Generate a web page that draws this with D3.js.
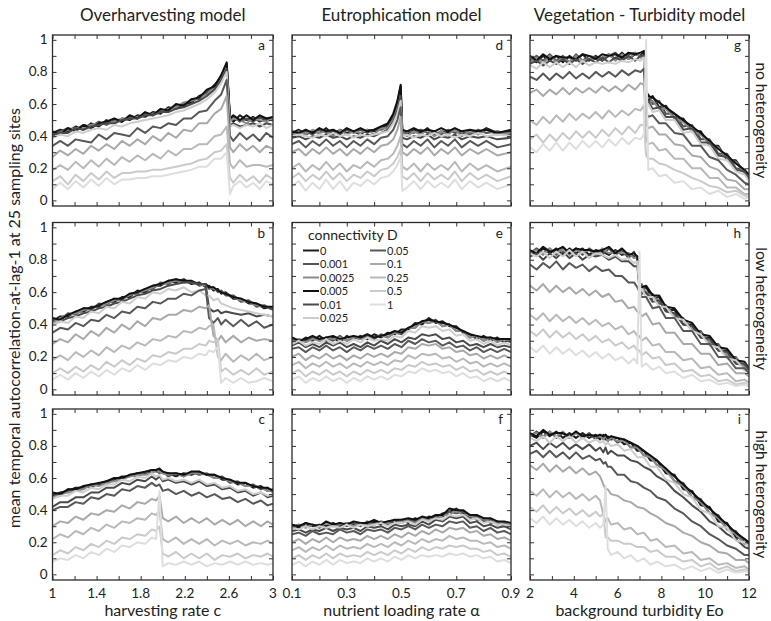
<!DOCTYPE html>
<html>
<head>
<meta charset="utf-8">
<script src="https://cdn.jsdelivr.net/npm/d3@7"></script>
<style>
  body { margin: 0; background: #fff; }
  svg text { font-family: Lato, "Open Sans", "Noto Sans", sans-serif; fill: #222; }
</style>
</head>
<body>
<svg id="chart" width="771" height="621"></svg>
<script>
// Connectivity levels (legend order = drawing order) and their grey shades
const connectivity = ["0", "0.001", "0.0025", "0.005", "0.01", "0.025", "0.05", "0.1", "0.25", "0.5", "1"];
const lineColors = ["#1c1c1c", "#525252", "#8a8a8a", "#111111", "#4a4a4a", "#cdcdcd", "#585858", "#a9a9a9", "#b9b9b9", "#cacaca", "#dedede"];

const modelTitles = ["Overharvesting model", "Eutrophication model", "Vegetation - Turbidity model"];
const rowTitles = ["no heterogeneity", "low heterogeneity", "high heterogeneity"];
const xTitles = ["harvesting rate c", "nutrient loading rate \u03b1", "background turbidity Eo"];
const xDomains = [[1, 3], [0.1, 0.9], [2, 12]];
const xTickLabels = [[1, 1.4, 1.8, 2.2, 2.6, 3], [0.1, 0.3, 0.5, 0.7, 0.9], [2, 4, 6, 8, 10, 12]];
const xMinorSteps = [0.2, 0.1, 1];
// autocorrelation is stored as percent (x100)
const yTickValues = [0, 20, 40, 60, 80, 100];
const yTickLabels = ["0", "0.2", "0.4", "0.6", "0.8", "1"];

// ---- a: overharvesting, no heterogeneity
const xa = [1.00,1.07,1.14,1.21,1.28,1.35,1.42,1.49,1.56,1.63,1.70,1.77,1.84,1.91,1.98,2.05,2.12,2.19,2.26,2.33,2.40,2.47,2.53,2.58,2.61,2.64,2.70,2.76,2.82,2.88,2.94,3.00];
const ya = [
 [42,44,43,46,44,48,46,50,48,51,50,53,52,55,54,58,57,60,61,65,67,72,77,85,52,49,53,50,52,49,51,50],
 [40,43,45,44,47,46,49,47,50,49,52,51,54,53,56,56,59,59,63,63,68,70,78,84,50,52,49,51,49,52,50,52],
 [41,42,44,45,45,47,48,48,49,51,51,52,53,54,55,57,58,61,62,64,66,71,76,83,49,51,50,48,51,50,49,51],
 [43,41,45,43,47,45,48,49,51,49,53,51,55,53,57,56,60,59,63,64,69,71,78,86,51,53,50,53,50,53,51,52],
 [41,42,42,45,44,46,47,48,48,50,51,51,53,53,55,55,57,58,60,62,65,69,75,82,47,48,46,47,48,46,48,47],
 [39,41,40,43,42,44,45,44,47,46,48,49,50,51,52,53,55,56,58,60,63,67,73,80,46,47,45,47,46,48,45,47],
 [34,37,34,38,37,36,41,38,42,41,40,45,42,46,45,48,47,51,51,55,56,62,66,75,40,37,42,38,41,37,42,39],
 [27,31,28,32,29,34,31,35,32,37,34,38,35,40,37,42,39,44,43,48,48,54,57,65,33,30,35,31,34,30,34,32],
 [19,22,19,24,20,25,21,26,22,27,24,28,25,29,26,31,28,32,32,35,35,40,41,46,23,20,25,21,22,22,21,22],
 [12,15,10,16,12,17,13,18,14,17,17,18,18,19,19,20,21,22,23,25,26,30,31,35,14,11,16,12,15,11,16,13],
 [7,11,7,12,8,13,9,14,10,13,13,14,14,15,15,16,17,18,19,21,21,26,26,30,4,9,12,8,11,7,12,10]
];

// ---- b: overharvesting, low heterogeneity
const xb = [1.00,1.07,1.14,1.21,1.28,1.35,1.42,1.49,1.56,1.63,1.70,1.77,1.84,1.91,1.98,2.05,2.12,2.19,2.26,2.33,2.39,2.42,2.46,2.50,2.53,2.57,2.64,2.71,2.78,2.85,2.92,3.00];
const yb = [
 [42,45,45,48,48,51,51,54,54,57,57,61,60,64,64,67,66,68,65,66,63,64,61,62,59,60,56,56,53,53,50,51],
 [43,43,47,46,50,49,53,52,56,55,59,59,62,62,66,65,68,66,67,64,65,62,63,60,61,58,58,54,55,51,52,49],
 [41,44,46,47,49,50,52,53,55,56,58,60,61,63,65,66,67,67,66,65,64,63,62,61,60,59,57,55,54,52,51,50],
 [44,43,46,48,50,50,52,54,56,56,59,60,62,64,65,67,68,67,67,65,65,63,63,61,60,59,57,56,54,53,51,51],
 [40,42,44,45,47,48,50,51,53,54,56,58,59,61,62,64,65,66,66,65,65,50,48,49,47,48,47,46,47,45,46,45],
 [40,42,41,45,44,48,47,51,50,54,53,57,56,60,59,62,61,63,60,61,58,58,55,56,53,52,50,49,48,47,46,45],
 [35,38,37,41,39,43,42,46,44,48,47,51,50,54,53,56,56,59,58,61,62,44,41,44,40,43,39,43,39,42,38,40],
 [28,31,29,34,31,36,33,38,35,40,37,42,39,44,43,46,46,49,48,51,50,52,33,30,33,29,33,29,32,30,31,30],
 [18,21,18,23,20,24,21,26,23,27,25,29,27,31,30,33,32,36,35,38,37,39,40,20,18,22,17,21,18,22,18,20],
 [10,13,10,14,11,15,12,17,14,18,15,19,17,21,20,23,22,25,25,28,27,30,29,31,11,13,9,12,9,13,9,11],
 [6,9,6,10,7,11,8,12,9,13,11,15,12,16,15,18,17,20,19,22,21,24,23,26,4,7,4,7,4,5,7,5]
];

// ---- c: overharvesting, high heterogeneity
const xc = [1.00,1.07,1.14,1.21,1.28,1.35,1.42,1.49,1.56,1.63,1.70,1.77,1.84,1.90,1.94,1.97,2.00,2.05,2.12,2.19,2.26,2.33,2.40,2.47,2.54,2.61,2.68,2.75,2.82,2.89,2.95,3.00];
const yc = [
 [49,51,52,54,54,56,56,58,59,61,61,63,63,65,64,65,63,63,61,63,62,64,62,62,59,59,56,57,54,55,52,53],
 [50,49,53,52,55,54,57,56,60,59,62,61,64,63,65,63,64,61,63,61,64,62,63,60,61,57,58,55,56,53,54,51],
 [48,50,51,52,53,56,55,57,58,59,61,62,62,63,65,64,63,62,63,61,63,63,62,60,60,58,57,55,55,54,52,52],
 [51,50,53,53,55,56,57,58,60,60,62,63,64,65,65,66,64,63,63,62,64,64,62,62,60,59,57,57,55,54,54,52],
 [42,45,45,48,48,51,51,54,54,57,56,59,58,61,59,61,58,59,57,58,56,58,55,56,53,54,51,52,49,51,48,49],
 [47,49,49,52,51,54,53,56,56,59,58,61,60,63,61,62,59,60,58,59,57,59,56,57,54,55,52,53,50,51,49,50],
 [40,42,42,45,44,48,47,50,49,53,52,55,54,57,55,56,52,53,50,52,49,51,48,50,47,48,45,47,44,46,43,44],
 [30,33,32,36,34,38,37,40,39,43,41,45,44,47,46,49,35,33,36,32,35,32,35,31,34,31,34,30,33,30,33,31],
 [22,25,23,27,25,29,27,31,29,33,32,35,34,38,37,40,22,20,23,19,22,19,22,18,21,19,21,18,20,19,21,19],
 [12,15,13,17,15,19,17,21,19,23,22,25,24,28,27,30,13,11,14,10,13,10,13,9,12,11,13,10,12,11,13,11],
 [8,10,9,12,10,14,12,16,14,18,17,20,19,23,22,52,5,7,6,8,6,8,5,7,6,8,6,8,6,7,6,7]
];

// ---- d: eutrophication, no heterogeneity
const xd = [0.10,0.125,0.15,0.175,0.20,0.225,0.25,0.275,0.30,0.325,0.35,0.375,0.40,0.425,0.45,0.47,0.485,0.497,0.503,0.52,0.545,0.57,0.595,0.62,0.645,0.67,0.695,0.72,0.75,0.78,0.81,0.85,0.90];
const yd = [
 [42,44,41,43,42,45,41,44,42,43,41,44,43,45,47,53,61,71,43,41,44,42,45,41,43,42,44,41,43,42,45,42,43],
 [41,42,43,41,44,42,43,41,44,42,44,42,44,44,46,51,59,68,41,43,42,44,42,43,41,44,42,43,41,44,42,43,41],
 [40,43,41,44,42,43,40,44,41,43,42,44,41,45,45,50,57,66,42,40,43,41,44,40,43,41,44,40,43,41,44,41,42],
 [43,42,44,42,45,43,44,42,45,43,45,43,44,46,48,54,62,72,44,43,45,43,44,43,45,43,45,43,44,43,44,42,44],
 [39,40,38,40,39,41,39,40,38,40,39,41,40,42,44,49,56,65,39,38,40,39,41,38,40,39,41,38,40,39,40,38,39],
 [40,41,40,39,41,40,42,40,41,39,41,40,41,42,43,48,54,62,40,41,39,41,40,42,40,41,39,41,40,42,40,41,40],
 [35,37,33,37,34,38,34,37,33,37,34,38,35,39,40,44,50,58,35,33,37,34,38,33,37,34,38,33,37,34,37,33,35],
 [30,32,28,32,29,33,29,32,28,32,29,33,30,34,35,38,44,52,30,28,32,29,33,28,32,29,33,28,32,29,32,28,30],
 [20,23,18,22,19,24,19,23,18,22,20,24,21,25,26,29,34,40,21,19,23,18,23,19,22,19,24,18,23,19,22,18,21],
 [14,17,12,16,13,18,13,17,12,16,14,18,15,19,20,23,27,32,15,13,17,12,17,13,16,13,18,12,17,13,16,12,15],
 [9,12,6,11,7,13,7,12,6,11,9,13,10,14,15,18,22,27,6,8,12,7,12,8,11,8,13,7,12,8,11,7,10]
];

// ---- e: eutrophication, low heterogeneity
const xe = [0.100,0.125,0.150,0.175,0.200,0.225,0.250,0.275,0.300,0.325,0.350,0.375,0.400,0.425,0.450,0.475,0.500,0.525,0.550,0.575,0.600,0.625,0.650,0.675,0.700,0.725,0.750,0.775,0.800,0.825,0.850,0.875,0.900];
const ye = [
 [31,29,32,30,33,30,32,29,33,31,33,31,34,32,35,34,37,37,41,40,44,41,42,39,39,35,34,31,33,30,32,29,31],
 [29,31,30,32,30,32,30,33,30,32,31,33,31,34,32,35,34,38,38,42,41,43,39,40,36,36,32,33,30,32,30,31,29],
 [30,31,29,31,30,32,31,32,30,33,31,32,32,33,32,35,35,38,38,42,41,42,39,40,36,36,32,33,30,32,29,31,29],
 [32,30,31,33,31,32,33,31,32,33,32,34,32,33,34,36,35,38,40,42,43,42,41,40,38,36,34,33,32,32,31,31,31],
 [27,29,26,28,26,29,27,29,26,28,26,29,27,30,28,31,29,32,31,34,33,34,31,32,29,30,27,28,26,28,26,27,26],
 [28,30,27,29,28,31,28,30,28,31,29,32,30,31,30,33,32,36,35,39,38,39,36,37,33,34,30,31,28,30,27,29,27],
 [25,26,23,26,24,27,24,26,23,26,24,27,25,27,25,28,26,30,28,31,29,30,27,29,26,27,24,26,23,25,23,25,23],
 [20,22,18,21,19,22,19,21,18,21,19,22,20,22,20,23,22,26,25,28,27,28,25,26,23,24,21,22,19,21,19,21,19],
 [15,17,13,16,14,17,14,16,13,16,14,17,15,17,15,18,17,21,19,22,21,22,19,20,17,19,16,17,14,16,14,16,14],
 [10,12,8,11,9,12,9,11,8,11,9,12,10,12,10,13,12,15,14,17,15,16,14,15,12,14,11,12,9,11,9,11,9],
 [6,8,4,7,5,8,5,7,4,7,5,8,6,8,6,9,8,11,10,13,11,12,10,11,8,10,7,8,5,7,5,7,5]
];

// ---- f: eutrophication, high heterogeneity
const xf = [0.100,0.125,0.150,0.175,0.200,0.225,0.250,0.275,0.300,0.325,0.350,0.375,0.400,0.425,0.450,0.475,0.500,0.525,0.550,0.575,0.600,0.625,0.650,0.675,0.700,0.725,0.750,0.775,0.800,0.825,0.850,0.875,0.900];
const yf = [
 [31,29,32,30,31,30,32,30,32,31,32,30,33,31,33,32,34,32,35,33,36,35,38,39,41,38,37,34,35,32,33,30,31],
 [29,31,30,31,29,32,30,32,30,32,30,33,31,33,31,34,32,34,33,35,33,36,36,39,38,39,35,36,33,34,31,32,30],
 [30,31,29,31,30,32,30,31,32,30,32,31,31,33,32,31,34,33,32,35,34,34,37,37,40,37,37,34,35,32,33,31,31],
 [31,30,32,31,30,33,31,32,31,33,32,32,34,32,33,34,34,35,34,36,35,37,37,41,40,40,37,37,35,35,33,33,32],
 [27,28,26,28,27,29,27,29,28,29,27,30,29,30,28,31,30,31,30,33,31,34,33,36,35,36,32,33,30,31,29,30,28],
 [29,28,30,28,30,29,30,29,31,29,31,30,31,32,30,32,32,33,31,34,33,35,34,37,36,37,34,35,32,33,31,31,30],
 [25,26,24,27,25,26,25,28,26,27,25,28,27,28,26,29,28,30,28,31,29,31,30,33,32,33,29,30,27,29,26,27,25],
 [20,22,19,22,20,23,20,23,21,22,21,24,22,24,22,25,23,26,24,27,25,28,26,29,28,29,26,27,24,25,22,23,21],
 [15,17,14,17,15,18,15,18,16,17,16,19,17,19,17,20,18,21,19,22,20,22,21,24,22,23,21,21,19,20,17,18,16],
 [10,12,9,12,10,13,10,13,11,12,11,14,12,14,12,15,13,16,14,17,15,17,16,18,17,18,16,16,14,15,12,13,11],
 [6,8,5,8,6,9,6,9,7,8,7,10,8,10,8,11,9,12,10,12,11,12,11,13,12,13,11,12,10,11,8,9,7]
];

// ---- g: vegetation-turbidity, no heterogeneity
const xg = [2.0,2.3,2.6,2.9,3.2,3.5,3.8,4.1,4.4,4.7,5.0,5.3,5.6,5.9,6.2,6.5,6.8,7.05,7.2,7.3,7.4,7.6,7.9,8.2,8.6,9.0,9.4,9.8,10.2,10.6,11.0,11.4,11.8,12.0];
const yg = [
 [88,86,90,87,90,86,90,87,91,87,90,87,91,88,92,88,91,90,93, 66,62,65,58,59,51,51,43,43,34,34,25,25,17,16],
 [87,90,87,91,87,90,86,91,87,90,89,87,90,92,88,91,92,89,91, 64,66,60,62,54,54,46,47,38,38,29,29,20,19,15],
 [86,89,85,90,86,89,86,90,87,88,88,89,91,87,91,88,92,89,91, 63,61,62,57,57,51,49,43,41,35,33,26,24,17,15],
 [90,87,91,88,90,89,89,88,91,90,88,91,90,91,89,92,91,92,93, 68,65,64,61,58,54,50,46,42,37,32,28,23,19,16],
 [85,87,84,87,85,88,85,88,85,88,86,89,86,89,87,90,87,90,90, 60,62,57,58,52,52,44,45,36,36,28,27,19,18,13],
 [84,82,86,83,86,83,86,83,87,84,86,85,86,85,87,86,88,87,89, 58,60,55,56,50,50,42,43,35,34,26,25,18,16,12],
 [77,75,79,75,79,76,80,76,79,76,80,77,80,77,81,78,81,80,82, 55,52,53,48,48,42,41,34,34,27,25,19,16,11,10],
 [67,69,65,69,66,70,66,70,67,70,67,71,68,71,68,72,69,73,72, 48,45,46,41,41,35,34,28,27,21,19,13,12,7,7],
 [50,47,52,48,53,49,54,50,54,51,55,51,56,52,56,53,57,56,59, 38,35,36,31,32,26,26,20,20,14,14,8,8,4,4],
 [38,41,36,41,37,42,38,43,39,43,39,44,40,45,41,46,42,47,47, 28,26,26,23,22,19,17,14,12,9,8,5,6,3,2],
 [33,30,35,31,36,31,36,32,37,33,37,33,38,34,39,35,39,38,41, 100,19,20,15,16,11,12,7,8,4,6,2,4,1,2]
];

// ---- h: vegetation-turbidity, low heterogeneity
const xh = [2.0,2.3,2.6,2.9,3.2,3.5,3.8,4.1,4.4,4.7,5.0,5.3,5.6,5.9,6.2,6.5,6.75,6.9,7.0,7.1,7.3,7.6,7.9,8.2,8.6,9.0,9.4,9.8,10.2,10.6,11.0,11.4,11.8,12.0];
const yh = [
 [85,83,87,84,87,83,87,84,87,83,86,85,83,86,83,84,82,82, 64,61,63,56,57,49,49,40,40,32,32,24,24,16,15,12],
 [84,87,84,87,83,87,84,87,83,87,84,83,87,83,86,81,85,80, 63,65,59,59,53,52,45,44,36,36,28,28,20,20,12,11],
 [85,86,83,87,84,87,83,86,85,86,83,87,84,85,84,84,81,82, 62,64,59,58,54,51,46,43,37,35,29,27,21,19,14,12],
 [86,84,88,85,86,88,84,87,86,86,85,86,88,84,87,83,84,82, 65,63,64,58,58,51,50,43,41,34,33,26,25,18,17,13],
 [82,84,80,84,81,85,81,84,80,83,82,83,80,82,79,79,76,76, 62,59,60,54,55,48,47,40,39,32,31,24,23,16,16,12],
 [84,82,85,81,85,82,86,82,85,81,84,83,81,83,80,81,78,79, 60,62,57,57,51,51,44,43,36,34,27,26,19,18,12,11],
 [77,74,78,75,79,74,78,75,77,73,76,73,74,70,70,66,66,63, 60,57,57,50,51,44,44,36,36,28,28,20,20,13,13,10],
 [64,61,65,60,64,60,63,59,62,58,61,57,59,54,55,50,51,48, 48,45,47,40,41,35,35,28,28,22,22,15,16,10,10,8],
 [46,43,47,42,46,42,45,41,44,40,43,39,41,37,39,34,36,33, 33,30,32,27,28,23,23,18,19,13,14,9,10,5,6,4],
 [36,33,37,32,36,32,35,31,34,30,33,29,31,27,29,25,27,24, 24,21,23,19,20,15,16,11,12,8,9,5,6,3,4,2],
 [26,23,27,22,26,22,25,21,24,20,23,19,22,18,20,16,19,16, 85,14,16,12,14,10,11,7,9,5,6,3,4,2,3,2]
];

// ---- i: vegetation-turbidity, high heterogeneity
const xi = [2.0,2.3,2.6,2.9,3.2,3.5,3.8,4.1,4.4,4.7,5.0,5.2,5.35,5.45,5.55,5.7,6.0,6.3,6.6,6.9,7.2,7.5,7.8,8.2,8.6,9.0,9.4,9.8,10.2,10.6,11.0,11.4,11.8,12.0];
const yi = [
 [87,85,89,86,89,85,88,85,88,85,87,84,87,84,86,84,85,81,82,77,77,71,71,63,62,53,52,43,42,33,32,23,22,19],
 [86,89,86,89,85,88,85,89,85,88,84,87,84,87,83,86,82,84,79,80,74,74,68,66,58,57,48,47,38,37,28,27,20,19],
 [87,88,85,89,86,89,85,88,85,87,86,86,84,87,83,85,83,83,79,79,74,73,68,65,58,55,48,45,38,35,28,25,19,18],
 [88,86,90,87,88,88,86,89,86,87,86,87,86,87,85,86,85,84,82,80,77,74,71,66,61,56,51,46,41,36,31,26,22,20],
 [80,82,78,82,79,82,78,81,78,81,77,79,76,79,75,77,74,74,71,70,67,65,61,58,52,48,43,39,33,30,25,22,17,16],
 [85,83,86,82,86,83,86,82,85,82,84,82,83,81,82,80,81,77,78,73,73,67,67,59,57,50,48,40,38,30,29,21,20,17],
 [75,77,73,77,73,76,72,76,72,74,71,72,69,70,67,67,62,62,58,57,54,52,48,46,41,38,33,30,25,22,18,16,12,12],
 [68,65,69,64,68,64,67,63,66,62,64,61,56,53,53,50,49,46,45,42,41,38,36,32,30,26,24,20,18,14,13,9,9,7],
 [52,49,53,48,52,48,51,47,50,46,49,46,37,33,35,31,32,28,29,25,26,21,22,17,18,13,14,9,10,6,7,4,5,3],
 [42,39,43,38,42,38,41,37,40,36,39,36,38,23,23,21,21,19,19,17,17,14,15,11,11,8,9,5,7,3,5,2,3,2],
 [35,32,36,31,35,31,34,30,33,29,32,29,31,55,16,12,14,10,12,8,10,6,8,5,6,3,5,2,4,1,3,1,2,1]
];

const panels = [
  { letter: "a", col: 0, row: 0, x: xa, y: ya },
  { letter: "b", col: 0, row: 1, x: xb, y: yb },
  { letter: "c", col: 0, row: 2, x: xc, y: yc },
  { letter: "d", col: 1, row: 0, x: xd, y: yd },
  { letter: "e", col: 1, row: 1, x: xe, y: ye },
  { letter: "f", col: 1, row: 2, x: xf, y: yf },
  { letter: "g", col: 2, row: 0, x: xg, y: yg },
  { letter: "h", col: 2, row: 1, x: xh, y: yh },
  { letter: "i", col: 2, row: 2, x: xi, y: yi }
];

// ---- layout
const colBox = [[52.5, 273], [292, 511], [530, 749]];
const rowBox = [[35, 206], [222.5, 395], [409, 580]];
const yDomain = [-3.5, 103];

const svg = d3.select("#chart");

panels.forEach(p => {
  const [x0, x1] = colBox[p.col];
  const [y0, y1] = rowBox[p.row];
  const xs = d3.scaleLinear().domain(xDomains[p.col]).range([x0, x1]);
  const ys = d3.scaleLinear().domain(yDomain).range([y1, y0]);
  const g = svg.append("g");

  const clipId = "clip-" + p.letter;
  svg.append("clipPath").attr("id", clipId)
    .append("rect").attr("x", x0).attr("y", y0).attr("width", x1 - x0).attr("height", y1 - y0);

  const line = d3.line()
    .x((d, i) => xs(p.x[i]))
    .y(d => ys(d));

  const lines = g.append("g").attr("clip-path", `url(#${clipId})`);
  p.y.forEach((vals, k) => {
    lines.append("path")
      .attr("d", line(vals))
      .attr("fill", "none")
      .attr("stroke", lineColors[k])
      .attr("stroke-width", 2)
      .attr("stroke-linejoin", "round");
  });

  // inward minor ticks on all four sides
  const [d0, d1] = xDomains[p.col];
  const step = xMinorSteps[p.col];
  const xMinor = d3.range(0, Math.round((d1 - d0) / step) + 1).map(k => d0 + k * step);
  const yMinor = d3.range(0, 101, 10);
  const tickStyle = sel => {
    sel.select(".domain").remove();
    sel.selectAll("line").attr("stroke", "#333").attr("stroke-width", 1);
    sel.selectAll("text").remove();
  };
  g.append("g").attr("transform", `translate(0,${y1})`)
    .call(d3.axisBottom(xs).tickValues(xMinor).tickSize(-4)).call(tickStyle);
  g.append("g").attr("transform", `translate(0,${y0})`)
    .call(d3.axisTop(xs).tickValues(xMinor).tickSize(-4)).call(tickStyle);
  g.append("g").attr("transform", `translate(${x0},0)`)
    .call(d3.axisLeft(ys).tickValues(yMinor).tickSize(-4)).call(tickStyle);
  g.append("g").attr("transform", `translate(${x1},0)`)
    .call(d3.axisRight(ys).tickValues(yMinor).tickSize(-4)).call(tickStyle);

  // frame
  g.append("rect")
    .attr("x", x0).attr("y", y0).attr("width", x1 - x0).attr("height", y1 - y0)
    .attr("fill", "none").attr("stroke", "#2b2b2b").attr("stroke-width", 1.3);

  // panel letter
  g.append("text")
    .attr("x", x1 - 8).attr("y", y0 + 15)
    .attr("text-anchor", "end").attr("font-size", 13.5)
    .text(p.letter);

  // y tick labels on the left column
  if (p.col === 0) {
    g.selectAll(".ylab").data(yTickValues).join("text")
      .attr("x", x0 - 5).attr("y", v => ys(v) + 4.5)
      .attr("text-anchor", "end").attr("font-size", 13.5)
      .text((v, k) => yTickLabels[k]);
  }
  // x tick labels and titles on the bottom row
  if (p.row === 2) {
    g.selectAll(".xlab").data(xTickLabels[p.col]).join("text")
      .attr("x", v => xs(v)).attr("y", y1 + 18)
      .attr("text-anchor", "middle").attr("font-size", 13.5)
      .text(v => String(v));
    g.append("text")
      .attr("x", (x0 + x1) / 2).attr("y", 616)
      .attr("text-anchor", "middle").attr("font-size", 16)
      .text(xTitles[p.col]);
  }
  if (p.row === 0) {
    g.append("text")
      .attr("x", (x0 + x1) / 2).attr("y", 21)
      .attr("text-anchor", "middle").attr("font-size", 17)
      .text(modelTitles[p.col]);
  }
  if (p.col === 2) {
    g.append("text")
      .attr("transform", `translate(756,${(y0 + y1) / 2}) rotate(90)`)
      .attr("text-anchor", "middle").attr("font-size", 15.5)
      .text(rowTitles[p.row]);
  }

  // connectivity legend inside panel e
  if (p.letter === "e") {
    const lg = g.append("g");
    lg.append("text").attr("x", x0 + 16).attr("y", y0 + 17)
      .attr("font-size", 14).text("connectivity D");
    connectivity.forEach((c, k) => {
      const colIdx = k < 6 ? 0 : 1;
      const rowIdx = k < 6 ? k : k - 6;
      const lx = x0 + (colIdx === 0 ? 11 : 78);
      const ly = y0 + 28 + rowIdx * 13.5;
      lg.append("line")
        .attr("x1", lx).attr("x2", lx + 16).attr("y1", ly).attr("y2", ly)
        .attr("stroke", lineColors[k]).attr("stroke-width", 2);
      lg.append("text").attr("x", lx + 17).attr("y", ly + 4)
        .attr("font-size", 11).text(c);
    });
  }
});

// shared y-axis title
svg.append("text")
  .attr("transform", "translate(20,318) rotate(-90)")
  .attr("text-anchor", "middle").attr("font-size", 16)
  .text("mean temporal autocorrelation-at-lag-1 at 25 sampling sites");
</script>
</body>
</html>
